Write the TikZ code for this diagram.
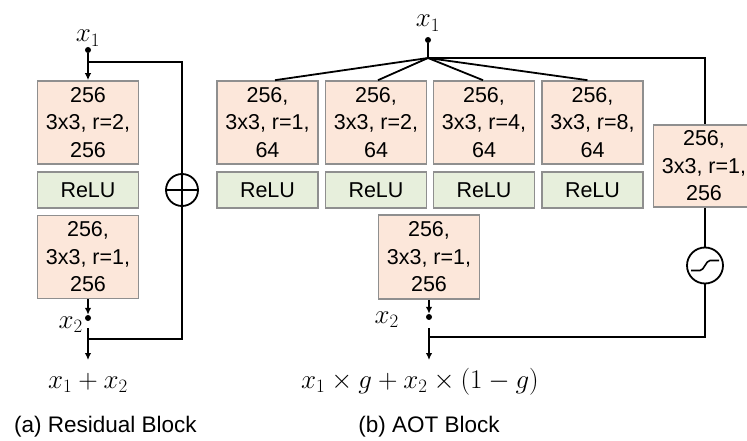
\documentclass[tikz,border=0pt]{standalone}
\usepackage{fix-cm}
\usepackage{fontspec}
\setmainfont{Liberation Sans}
\usetikzlibrary{arrows.meta,calc}
\definecolor{convfill}{HTML}{FCE7DA}
\definecolor{relufill}{HTML}{E7EFDC}
\definecolor{boxline}{HTML}{8F8F8F}
\begin{document}
\begin{tikzpicture}[x=1pt,y=-1pt,
 conv/.style={draw=boxline, line width=1.6pt, fill=convfill, minimum width=101pt, minimum height=83pt, align=center, font=\fontsize{21.5}{27.5}\selectfont, inner sep=0pt},
 relu/.style={draw=boxline, line width=1.6pt, fill=relufill, minimum width=101pt, minimum height=36pt, font=\fontsize{21.5}{26}\selectfont, inner sep=0pt},
 wire/.style={line width=1.8pt, draw=black},
 arr/.style={wire, -{Latex[length=7pt,width=6.5pt]}},
 lbl/.style={font=\fontsize{27}{32}\selectfont, inner sep=0pt},
 captxt/.style={font=\fontsize{22.5}{27}\selectfont, inner sep=0pt},
 dotc/.style={circle, fill=black, inner sep=0pt, minimum size=6pt},
 ringc/.style={circle, draw=black, line width=1.8pt, inner sep=0pt},
]
\path[use as bounding box] (0,0) rectangle (747,441);
\clip (0,0) rectangle (747,441);

% ---------- (a) Residual Block ----------
\node[lbl, anchor=base] (rx1) at (88,42) {$x_1$};
\node[dotc] (rx1d) at (88,50) {};
\coordinate (rj) at (88,62);
\node[conv] (ra) at (88,122.5) {256\\3x3, r=2,\\256};
\node[relu] (rb) at (88,190) {ReLU};
\node[conv] (rc) at (88,257) {256,\\3x3, r=1,\\256};
\node[ringc, minimum size=32pt] (plus) at (182,190) {};
\coordinate (rtr) at (182,62);
\coordinate (rbr) at (182,339);
\coordinate (rjb) at (88,339);
\draw[arr] (rx1d) -- (ra.north);
\draw[wire] (rj) -- (rtr) -- (rbr) -- (rjb);
\draw[wire] (plus.west) -- (plus.east);
\node[dotc] (rx2d) at (88,318) {};
\draw[arr] (rc.south) -- (rx2d.north);
\node[lbl, anchor=base east] (rx2) at (83,328) {$x_2$};
\coordinate (rs) at (88,328);
\coordinate (re) at (88,360);
\draw[arr] (rs) -- (re);
\node[lbl, anchor=base] (rsum) at (88,388) {$x_1 + x_2$};
\node[captxt, anchor=base] (capa) at (105.5,432) {(a) Residual Block};

% ---------- (b) AOT Block ----------
\node[lbl, anchor=base] (bx1) at (428,27) {$x_1$};
\node[dotc] (bx1d) at (428,40) {};
\coordinate (fan) at (428,58);
\node[conv] (b1) at (267.5,122.5) {256,\\3x3, r=1,\\64};
\node[conv] (b2) at (376,122.5) {256,\\3x3, r=2,\\64};
\node[conv] (b3) at (484,122.5) {256,\\3x3, r=4,\\64};
\node[conv] (b4) at (592.5,122.5) {256,\\3x3, r=8,\\64};
\node[relu] (r1) at (267.5,190) {ReLU};
\node[relu] (r2) at (376,190) {ReLU};
\node[relu] (r3) at (484,190) {ReLU};
\node[relu] (r4) at (592.5,190) {ReLU};
\node[conv, minimum height=82pt] (b5) at (704,166) {256,\\3x3, r=1,\\256};
\node[conv, minimum height=84pt] (b6) at (429,257) {256,\\3x3, r=1,\\256};
\node[ringc, minimum size=36pt] (sig) at (705,265.5) {};
\coordinate (btr) at (705,58);
\coordinate (bbr) at (705,337);
\coordinate (bjb) at (429,337);

\draw[wire] (bx1d) -- (fan);
\draw[wire] (fan) -- ($(b1.north)+(7.5,0)$);
\draw[wire] (fan) -- ($(b2.north)+(2,0)$);
\draw[wire] (fan) -- ($(b3.north)+(-1,0)$);
\draw[wire] (fan) -- ($(b4.north)+(-5,0)$);
\draw[wire] (fan) -- (btr) -- (b5.north -| btr);
\draw[wire] (b5.south -| sig) -- (sig.north);
\draw[wire] (sig.south) -- (bbr) -- (bjb);
\draw[line width=1.6pt] ($(sig.center)+(-14,5)$) -- ($(sig.center)+(-5,5)$)
  .. controls ($(sig.center)+(-1,5)$) and ($(sig.center)+(1,-5)$) .. ($(sig.center)+(5,-5)$)
  -- ($(sig.center)+(14,-5)$);

\node[dotc] (bx2d) at (429,317) {};
\draw[arr] (b6.south) -- (bx2d.north);
\node[lbl, anchor=base east] (bx2) at (399,323) {$x_2$};
\coordinate (bs) at (429,328);
\coordinate (be) at (429,360);
\draw[arr] (bs) -- (be);
\node[lbl, anchor=base] (bout) at (420,388) {$x_1\times g+x_2\times(1-g)$};
\node[captxt, anchor=base] (capb) at (429,432) {(b) AOT Block};
\end{tikzpicture}
\end{document}
